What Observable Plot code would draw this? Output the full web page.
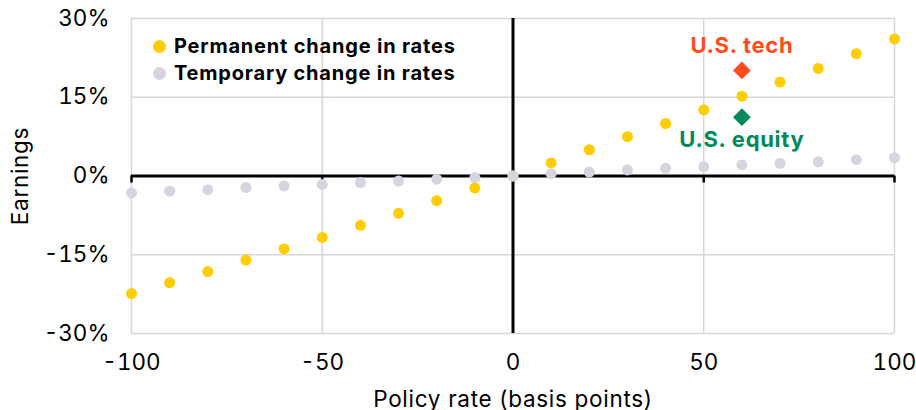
<!DOCTYPE html>
<html>
<head>
<meta charset="utf-8">
<script src="https://cdn.jsdelivr.net/npm/d3@7"></script>
<script src="https://cdn.jsdelivr.net/npm/@observablehq/plot@0.6"></script>
<style>
  html, body { margin: 0; padding: 0; background: #fff; }
  #wrap { position: relative; width: 916px; height: 410px; font-family: Inter, "Noto Sans", sans-serif; }
  #chart svg g[aria-label="x-axis label"] text,
  #chart svg g[aria-label="y-axis label"] text,
  #chart svg g[aria-label="text"] text { letter-spacing: 0.7px; }
  #legend { position: absolute; left: 153px; top: 33px; font-weight: 700; font-size: 20px; letter-spacing: 0.8px; color: #000; line-height: 27px; }
  #legend .row { display: flex; align-items: center; white-space: nowrap; }
  #legend .sw { width: 13px; height: 13px; border-radius: 50%; margin-right: 8px; }
</style>
</head>
<body>
<div id="wrap">
  <div id="chart"></div>
  <div id="legend"></div>
</div>
<script>
const policyRate = [-100, -90, -80, -70, -60, -50, -40, -30, -20, -10, 0, 10, 20, 30, 40, 50, 60, 70, 80, 90, 100];
const permanent = [-22.4, -20.3, -18.2, -16.0, -13.9, -11.7, -9.4, -7.1, -4.7, -2.3, 0, 2.5, 5.0, 7.5, 10.0, 12.6, 15.2, 17.9, 20.5, 23.3, 26.1];
const temporary = [-3.2, -2.9, -2.6, -2.2, -1.9, -1.6, -1.25, -0.95, -0.6, -0.3, 0, 0.45, 0.76, 1.15, 1.46, 1.8, 2.1, 2.4, 2.7, 3.1, 3.5];
const seriesNames = ["Permanent change in rates", "Temporary change in rates"];
const seriesColors = ["#ffcd00", "#d6d5df"];
const markerNames = ["U.S. tech", "U.S. equity"];
const markerX = [60, 60];
const markerY = [20.1, 11.2];
const markerColors = ["#ff4c1c", "#008a5a"];
const xTicks = [-100, -50, 0, 50, 100];
const yTicks = [-30, -15, 0, 15, 30];

const permData = policyRate.map((x, i) => ({x, y: permanent[i]}));
const tempData = policyRate.map((x, i) => ({x, y: temporary[i]}));
const markers = markerNames.map((name, i) => ({name, x: markerX[i], y: markerY[i], color: markerColors[i]}));

const chart = Plot.plot({
  width: 916,
  height: 410,
  marginLeft: 131,
  marginRight: 22,
  marginTop: 18,
  marginBottom: 77,
  style: {fontFamily: 'Inter, "Noto Sans", sans-serif', background: "#fff", color: "#000"},
  x: {domain: [-100, 100]},
  y: {domain: [-30, 30]},
  marks: [
    Plot.gridX(xTicks.filter(d => d !== 0), {stroke: "#d7d6de", strokeOpacity: 1, strokeWidth: 1.5}),
    Plot.gridY(yTicks.filter(d => d !== 0), {stroke: "#d7d6de", strokeOpacity: 1, strokeWidth: 1.5}),
    Plot.ruleY([0], {stroke: "#000", strokeWidth: 3}),
    Plot.ruleX([0], {stroke: "#000", strokeWidth: 3}),
    Plot.ruleX(xTicks.filter(d => d !== 0), {x: d => d, y1: () => 0, y2: () => 0, insetBottom: -7, stroke: "#000", strokeWidth: 2.5}),
    Plot.axisX({ticks: xTicks, tickFormat: d => String(d), tickSize: 0, tickPadding: 21, fontSize: 22.5, label: "Policy rate (basis points)", labelAnchor: "center", labelArrow: "none", labelOffset: 73}),
    Plot.axisY({ticks: yTicks, tickFormat: d => d + "%", tickSize: 0, tickPadding: 22, fontSize: 22.5, label: "Earnings", labelAnchor: "center", labelArrow: "none", labelOffset: 119}),
    Plot.dot(permData, {x: "x", y: "y", r: 5.5, fill: seriesColors[0]}),
    Plot.dot(tempData, {x: "x", y: "y", r: 5.5, fill: seriesColors[1]}),
    Plot.dot(markers, {x: "x", y: "y", symbol: "diamond2", r: 8, fill: "color"}),
    Plot.text(markers.slice(0, 1), {x: "x", y: "y", text: "name", fill: "color", dy: -25, fontWeight: 700, fontSize: 22}),
    Plot.text(markers.slice(1), {x: "x", y: "y", text: "name", fill: "color", dy: 23, fontWeight: 700, fontSize: 22})
  ]
});
document.getElementById("chart").appendChild(chart);

const legend = document.getElementById("legend");
seriesNames.forEach((name, i) => {
  const row = document.createElement("div");
  row.className = "row";
  const sw = document.createElement("span");
  sw.className = "sw";
  sw.style.background = seriesColors[i];
  const t = document.createElement("span");
  t.textContent = name;
  row.appendChild(sw);
  row.appendChild(t);
  legend.appendChild(row);
});
</script>
</body>
</html>
